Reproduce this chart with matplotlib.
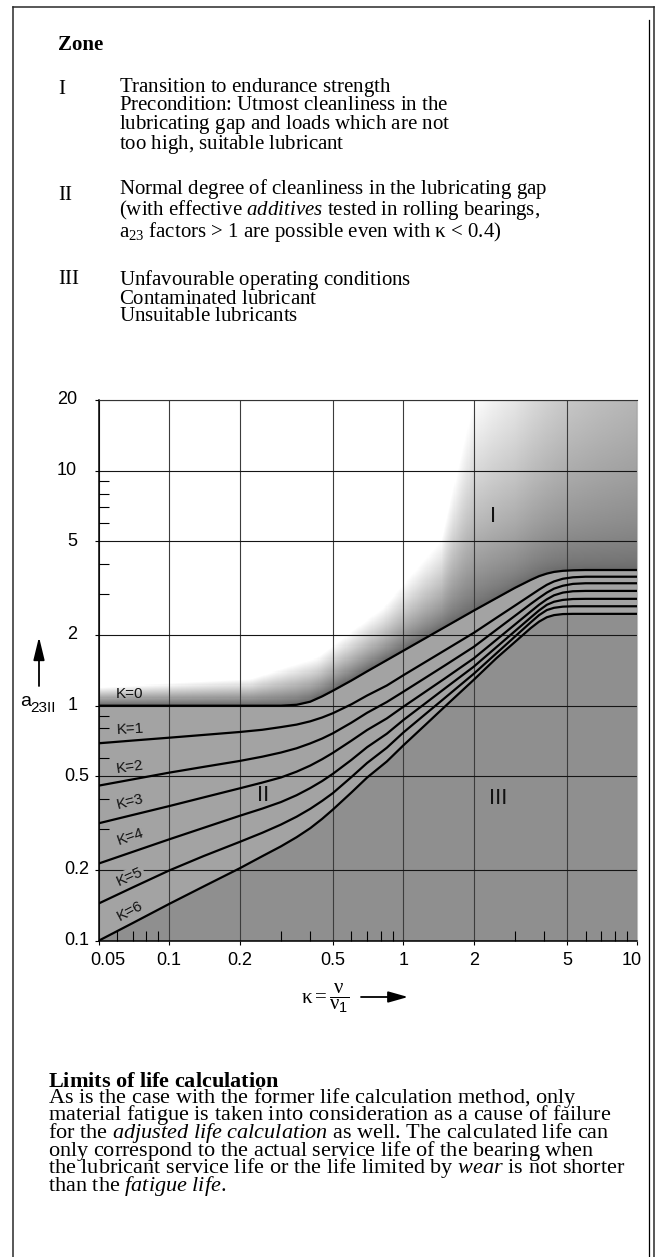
import numpy as np
import matplotlib
matplotlib.use("Agg")
import matplotlib.pyplot as plt
from matplotlib.lines import Line2D
from matplotlib.patches import FancyArrowPatch
from matplotlib.ticker import FixedLocator, NullFormatter

plt.rcParams['mathtext.fontset'] = 'custom'
plt.rcParams['mathtext.rm'] = 'Liberation Serif'
plt.rcParams['mathtext.it'] = 'Liberation Serif:italic'
plt.rcParams['mathtext.bf'] = 'Liberation Serif:bold'
plt.rcParams['mathtext.sf'] = 'Liberation Sans'

# ---------------- data ----------------
kappa = [0.05, 0.07, 0.1, 0.14, 0.2, 0.25, 0.3, 0.35, 0.4, 0.45, 0.5, 0.6, 0.7, 0.85, 1.0,
         1.25, 1.5, 2.0, 2.5, 3.0, 3.5, 3.8, 4.1, 4.4, 4.8, 5.3, 6.0, 10.0]
a23_K0 = [1.0, 1.0, 1.0, 1.0, 1.0, 1.0, 1.0, 1.009, 1.04, 1.096, 1.158, 1.28, 1.40, 1.563, 1.714,
          1.946, 2.158, 2.54, 2.873, 3.176, 3.43, 3.56, 3.65, 3.71, 3.75, 3.77, 3.78, 3.78]
a23_K1 = [0.692, 0.711, 0.731, 0.751, 0.773, 0.790, 0.811, 0.831, 0.858, 0.891, 0.929, 1.014, 1.105,
          1.219, 1.348, 1.541, 1.719, 2.043, 2.368, 2.669, 2.955, 3.12, 3.27, 3.38, 3.47, 3.52, 3.54, 3.54]
a23_K2 = [0.457, 0.486, 0.519, 0.549, 0.582, 0.607, 0.632, 0.659, 0.691, 0.725, 0.763, 0.847, 0.933,
          1.037, 1.147, 1.320, 1.481, 1.781, 2.107, 2.415, 2.712, 2.877, 3.03, 3.15, 3.24, 3.30, 3.32, 3.32]
a23_K3 = [0.316, 0.343, 0.374, 0.407, 0.445, 0.471, 0.495, 0.524, 0.556, 0.592, 0.630, 0.710, 0.788,
          0.883, 0.99, 1.152, 1.304, 1.591, 1.910, 2.218, 2.517, 2.690, 2.837, 2.95, 3.03, 3.07, 3.08, 3.08]
a23_K4 = [0.213, 0.239, 0.270, 0.302, 0.340, 0.365, 0.389, 0.416, 0.446, 0.478, 0.513, 0.588, 0.666,
          0.760, 0.869, 1.029, 1.182, 1.467, 1.777, 2.079, 2.374, 2.545, 2.688, 2.77, 2.82, 2.845, 2.85, 2.85]
a23_K5 = [0.144, 0.1687, 0.199, 0.229, 0.2633, 0.288, 0.312, 0.337, 0.364, 0.3936, 0.4247, 0.497, 0.5705,
          0.6625, 0.769, 0.926, 1.077, 1.368, 1.673, 1.971, 2.264, 2.43, 2.553, 2.61, 2.64, 2.65, 2.65, 2.65]
a23_K6 = [0.1, 0.119, 0.1434, 0.170, 0.2033, 0.229, 0.252, 0.2757, 0.301, 0.330, 0.3614, 0.4272, 0.4946,
          0.579, 0.678, 0.834, 0.989, 1.290, 1.595, 1.87, 2.14, 2.28, 2.38, 2.43, 2.455, 2.46, 2.46, 2.46]
curves = [a23_K0, a23_K1, a23_K2, a23_K3, a23_K4, a23_K5, a23_K6]
curve_labels = ['K=0', 'K=1', 'K=2', 'K=3', 'K=4', 'K=5', 'K=6']

# edge of the white area and softness of the shading (background styling)
white_edge_x = [0.05, 0.222, 0.43, 0.825, 1.447, 2.0, 3.0, 5.0, 10.0]
white_edge_y = [1.2, 1.3, 1.61, 2.63, 5.07, 20.0, 38.5, 134.0, 562.0]
shade_gamma_x = [0.05, 0.5, 1.5, 3.0, 10.0]
shade_gamma = [1.0, 0.9, 0.75, 0.6, 0.6]

x_major = [0.05, 0.1, 0.2, 0.5, 1, 2, 5, 10]
x_major_labels = ['0.05', '0.1', '0.2', '0.5', '1', '2', '5', '10']
x_minor = [0.06, 0.07, 0.08, 0.09, 0.3, 0.4, 0.6, 0.7, 0.8, 0.9, 3, 4, 6, 7, 8, 9]
y_major = [0.1, 0.2, 0.5, 1, 2, 5, 10, 20]
y_major_labels = ['0.1', '0.2', '0.5', '1', '2', '5', '10', '20']
y_minor = [0.3, 0.4, 0.6, 0.7, 0.8, 0.9, 3, 4, 6, 7, 8, 9]

zone_ids = ['I', 'II', 'III']
zone_texts = [
    ['Transition to endurance strength',
     'Precondition: Utmost cleanliness in the',
     'lubricating gap and loads which are not',
     'too high, suitable lubricant'],
    ['Normal degree of cleanliness in the lubricating gap',
     r'(with effective $additives$ tested in rolling bearings,',
     r'$\mathrm{a}_{23}$ factors > 1 are possible even with κ < 0.4)'],
    ['Unfavourable operating conditions',
     'Contaminated lubricant',
     'Unsuitable lubricants'],
]
limits_title = r'$\mathbf{Limits\ of\ life\ calculation}$'
limits_text = [
    'As is the case with the former life calculation method, only',
    'material fatigue is taken into consideration as a cause of failure',
    r'for the $adjusted\ life\ calculation$ as well. The calculated life can',
    'only correspond to the actual service life of the bearing when',
    r'the lubricant service life or the life limited by $wear$ is not shorter',
    r'than the $fatigue\ life.$',
]


def as_mixed(line):
    # give every line the same (mathtext) line metrics, so the block spacing is even
    if '$' in line:
        return line
    return r'$\mathrm{' + line[0] + '}$' + line[1:]


# ---------------- figure ----------------
W, H = 664, 1257
fig = plt.figure(figsize=(W / 100, H / 100), dpi=100)


def fx(x):
    return x / W


def fy(y):
    return 1 - y / H


# frame
frame_kw = dict(transform=fig.transFigure, color='#2a2a2a', lw=1.1)
fig.add_artist(Line2D([fx(12.7), fx(654)], [fy(7), fy(7)], **frame_kw))
fig.add_artist(Line2D([fx(12.7), fx(12.7)], [fy(7), fy(1257)], **frame_kw))
fig.add_artist(Line2D([fx(654), fx(654)], [fy(7), fy(1257)], **frame_kw))
fig.add_artist(Line2D([fx(649), fx(649)], [fy(20), fy(1257)], transform=fig.transFigure,
                      color='black', lw=0.9))

serif = 'Liberation Serif'
sans = 'Liberation Sans'

# Zone text block
fig.text(fx(58), fy(50.5), 'Zone', fontsize=15, fontweight='bold', family=serif, va='baseline')
zone_first_baselines = [94, 200, 284]
zone_pitch = 18.3
for zid, lines, b0 in zip(zone_ids, zone_texts, zone_first_baselines):
    fig.text(fx(58), fy(b0), zid, fontsize=15, family=serif, va='baseline')
    last = b0 + (len(lines) - 1) * zone_pitch
    fig.text(fx(119), fy(last), '\n'.join(as_mixed(l) for l in lines), fontsize=15,
             family=serif, va='baseline', linespacing=0.83)

# bottom text block
body = [limits_title] + limits_text
last = 1087.7 + (len(body) - 1) * 17.2
fig.text(fx(48), fy(last), '\n'.join(as_mixed(l) for l in body), fontsize=16, family=serif,
         va='baseline', linespacing=0.626)

# ---------------- chart ----------------
ax = fig.add_axes([fx(98.7), fy(940.7), (637.5 - 98.7) / W, (940.7 - 400) / H])
ax.set_xscale('log')
ax.set_yscale('log')
ax.set_xlim(0.05, 10)
ax.set_ylim(0.1, 20)

# background shading above the K=0 curve
lk = np.log10(kappa)
lc = np.log10(a23_K0)
u = np.linspace(np.log10(0.05), 1.0, 500)
v = np.linspace(-1.0, np.log10(20), 500)
U, V = np.meshgrid(u, v)
C0 = np.interp(U, lk, lc)
Wd = np.interp(U, np.log10(white_edge_x), np.log10(white_edge_y))
G = np.interp(U, np.log10(shade_gamma_x), shade_gamma)
t = np.clip((V - C0) / (Wd - C0), 0, 1)
s = t ** G
gray = 0.40 + 0.60 * s
ax.pcolormesh(10 ** U, 10 ** V, gray, cmap='gray', vmin=0, vmax=1, shading='auto',
              zorder=0.5, rasterized=True)

ax.fill_between(kappa, a23_K6, a23_K0, color='#a3a3a3', lw=0, zorder=1)
ax.fill_between(kappa, 0.1, a23_K6, color='#8f8f8f', lw=0, zorder=1)

for ys in curves:
    ax.plot(kappa, ys, color='black', lw=1.6, zorder=3, solid_capstyle='butt',
            solid_joinstyle='round')

# grid
ax.xaxis.set_major_locator(FixedLocator(x_major))
ax.xaxis.set_minor_locator(FixedLocator(x_minor))
ax.yaxis.set_major_locator(FixedLocator(y_major))
ax.yaxis.set_minor_locator(FixedLocator(y_minor))
for axis in (ax.xaxis, ax.yaxis):
    axis.set_major_formatter(NullFormatter())
    axis.set_minor_formatter(NullFormatter())
ax.xaxis.grid(True, which='major', color='#3c3c3c', lw=0.8)
ax.yaxis.grid(True, which='major', color='#151515', lw=0.8)
ax.tick_params(which='major', direction='out', length=3, width=0.8, color='black')
ax.tick_params(which='minor', direction='in', length=7.2, width=0.8, color='black')
ax.tick_params(top=False, right=False, which='both')

for side in ('left', 'bottom'):
    ax.spines[side].set_linewidth(1.1)
    ax.spines[side].set_color('black')
ax.spines['top'].set_linewidth(0.8)
ax.spines['top'].set_color('#333333')
ax.spines['right'].set_linewidth(0.8)
ax.spines['right'].set_color('#bdbdbd')

# tick labels
for val, lab in zip(x_major, x_major_labels):
    dx = 0
    if lab == '0.05':
        dx = 9
    elif lab == '10':
        dx = -6
    ax.annotate(lab, xy=(val, 0), xycoords=('data', 'axes fraction'), xytext=(dx, -19.5),
                textcoords='offset pixels', ha='center', va='center', fontsize=13,
                family=sans, annotation_clip=False)
for val, lab in zip(y_major, y_major_labels):
    dx = -9.2 if '.' in lab else -21.5
    ax.annotate(lab, xy=(0, val), xycoords=('axes fraction', 'data'), xytext=(dx, 0),
                textcoords='offset pixels', ha='right', va='center', fontsize=13,
                family=sans, annotation_clip=False)

# curve labels
k_label_y = [1.121, 0.796, 0.548, 0.389, 0.276, 0.1867, 0.1339]
k_label_rot = [0, 3, 8, 14, 19, 24, 28]
for lab, yy, rot in zip(curve_labels, k_label_y, k_label_rot):
    kw = {}
    if lab == 'K=5':
        kw['bbox'] = dict(facecolor='#a3a3a3', edgecolor='none', pad=1.0)
    ax.text(0.068, yy, lab, fontsize=11, family=sans, ha='center', va='center',
            rotation=rot, rotation_mode='anchor', color='#111111', zorder=4, **kw)

# zone labels inside the chart
ax.text(2.42, 6.41, 'I', fontsize=16, family=sans, ha='center', va='center', color='#111111', zorder=4)
ax.text(0.2525, 0.413, 'II', fontsize=16, family=sans, ha='center', va='center', color='#111111', zorder=4)
ax.text(2.54, 0.401, 'III', fontsize=16, family=sans, ha='center', va='center', color='#111111', zorder=4)

# axis labels
fig.text(fx(20), fy(706), 'a', fontsize=14, family=sans, va='baseline')
fig.text(fx(30.5), fy(712), '23II', fontsize=11, family=sans, va='baseline')
fig.add_artist(FancyArrowPatch((fx(39), fy(686)), (fx(39), fy(637)), transform=fig.transFigure,
                               arrowstyle='-|>,head_length=0.7,head_width=0.17',
                               mutation_scale=20, lw=1.3, color='black',
                               shrinkA=0, shrinkB=0))
fig.text(fx(325), fy(998), r'$\mathrm{\kappa} = \dfrac{\mathrm{\nu}}{\mathrm{\nu}_{\mathsf{1}}}$',
         fontsize=15, ha='center', va='center')
fig.add_artist(FancyArrowPatch((fx(361), fy(997)), (fx(408), fy(997)), transform=fig.transFigure,
                               arrowstyle='-|>,head_length=0.6,head_width=0.17',
                               mutation_scale=20, lw=1.3, color='black',
                               shrinkA=0, shrinkB=0))

fig.savefig('out.png', dpi=100)
